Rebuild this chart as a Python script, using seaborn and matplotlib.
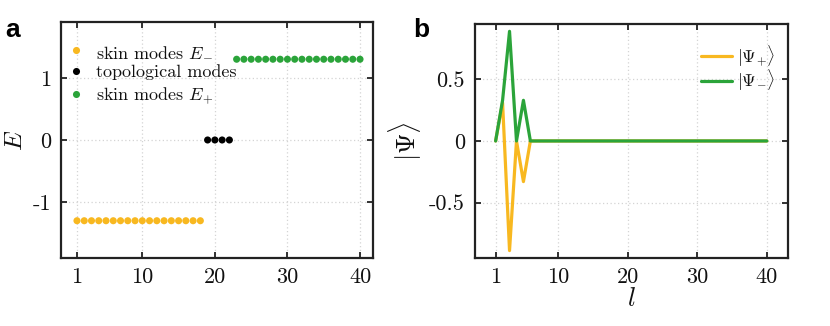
import numpy as np
import pandas as pd
import matplotlib
matplotlib.use('Agg')
import matplotlib.pyplot as plt
import seaborn as sns

# panel a: eigen-energies per mode index
idx_minus = list(range(1, 19))
E_minus = [-1.3] * 18
idx_topo = [19, 20, 21, 22]
E_topo = [0.0, 0.0, 0.0, 0.0]
idx_plus = list(range(23, 41))
E_plus = [1.3] * 18

# panel b: wavefunction amplitude along sites
sites = list(range(1, 41))
psi_plus = [0.0, 0.31, -0.89, 0.0, -0.33, 0.0] + [0.0] * 34
psi_minus = [0.0, 0.33, 0.89, 0.0, 0.33, 0.0] + [0.0] * 34

xticks = [1, 10, 20, 30, 40]
a_yticks = [-1, 0, 1]
a_yticklabels = ['-1', '0', '1']
b_yticks = [-0.5, 0, 0.5]
b_yticklabels = ['-0.5', '0', '0.5']

c_yellow = '#F8B820'
c_black = '#000000'
c_green = '#2BA43A'

sns.set_style('ticks')
plt.rcParams['font.family'] = ['cmr10', 'DejaVu Serif']
plt.rcParams['mathtext.fontset'] = 'cm'
plt.rcParams['axes.unicode_minus'] = False
plt.rcParams['text.color'] = '#111111'
plt.rcParams['axes.labelcolor'] = '#111111'
plt.rcParams['xtick.labelcolor'] = '#111111'
plt.rcParams['ytick.labelcolor'] = '#111111'

fig = plt.figure(figsize=(8.3, 3.26), dpi=100)
ax1 = fig.add_axes([0.0735, 0.2086, 0.376, 0.724])
ax2 = fig.add_axes([0.572, 0.2086, 0.377, 0.718])

dfa = pd.DataFrame({
    'l': idx_minus + idx_topo + idx_plus,
    'E': E_minus + E_topo + E_plus,
    'kind': ['skin modes $E_{-}$'] * len(idx_minus)
            + ['topological modes'] * len(idx_topo)
            + ['skin modes $E_{+}$'] * len(idx_plus),
})
sns.scatterplot(data=dfa, x='l', y='E', hue='kind', ax=ax1,
                palette=[c_yellow, c_black, c_green], s=26, linewidth=0,
                zorder=3)

dfb = pd.DataFrame({
    'l': sites + sites,
    'psi': psi_plus + psi_minus,
    'state': [r'$|\Psi_{+}\rangle$'] * len(sites) + [r'$|\Psi_{-}\rangle$'] * len(sites),
})
sns.lineplot(data=dfb, x='l', y='psi', hue='state', ax=ax2,
             palette=[c_yellow, c_green], linewidth=2.3, zorder=3)

for ax in (ax1, ax2):
    ax.set_xticks(xticks)
    ax.set_xticklabels([str(t) for t in xticks])
    ax.grid(True, linestyle=(0, (1, 2)), color='#d4d4d4', linewidth=0.9)
    ax.tick_params(direction='in', top=True, right=True, length=4, width=1.3,
                   labelsize=16, pad=7, color='#222222')
    for sp in ax.spines.values():
        sp.set_linewidth(1.6)
        sp.set_color('#222222')
        sp.set_visible(True)

ax1.set_xlim(-1.2, 41.8)
ax1.set_ylim(-1.9, 1.9)
ax1.set_yticks(a_yticks)
ax1.set_yticklabels(a_yticklabels)
ax1.set_xlabel('')
ax1.set_ylabel('$E$', fontsize=18, labelpad=4)
ax1.legend(loc='upper left', frameon=False, fontsize=13, handletextpad=0.6,
           borderaxespad=0.2, labelspacing=0.3, markerscale=1.0,
           handlelength=1.0, bbox_to_anchor=(-0.015, 0.955))

ax2.set_xlim(-2, 43)
ax2.set_ylim(-0.95, 0.95)
ax2.set_yticks(b_yticks)
ax2.set_yticklabels(b_yticklabels)
ax2.set_xlabel('$l$', fontsize=19, labelpad=0)
ax2.set_ylabel(r'$|\Psi\rangle$', fontsize=19, labelpad=4)
ax2.legend(loc='upper right', frameon=False, fontsize=12.5, handlelength=1.8,
           handletextpad=0.3, labelspacing=0.0, borderaxespad=0.3,
           bbox_to_anchor=(1.0, 0.97))

fig.text(0.006, 0.885, 'a', fontsize=19, fontweight='bold',
         family='Liberation Sans', color='black')
fig.text(0.498, 0.885, 'b', fontsize=19, fontweight='bold',
         family='Liberation Sans', color='black')

fig.savefig('out.png', dpi=100)
